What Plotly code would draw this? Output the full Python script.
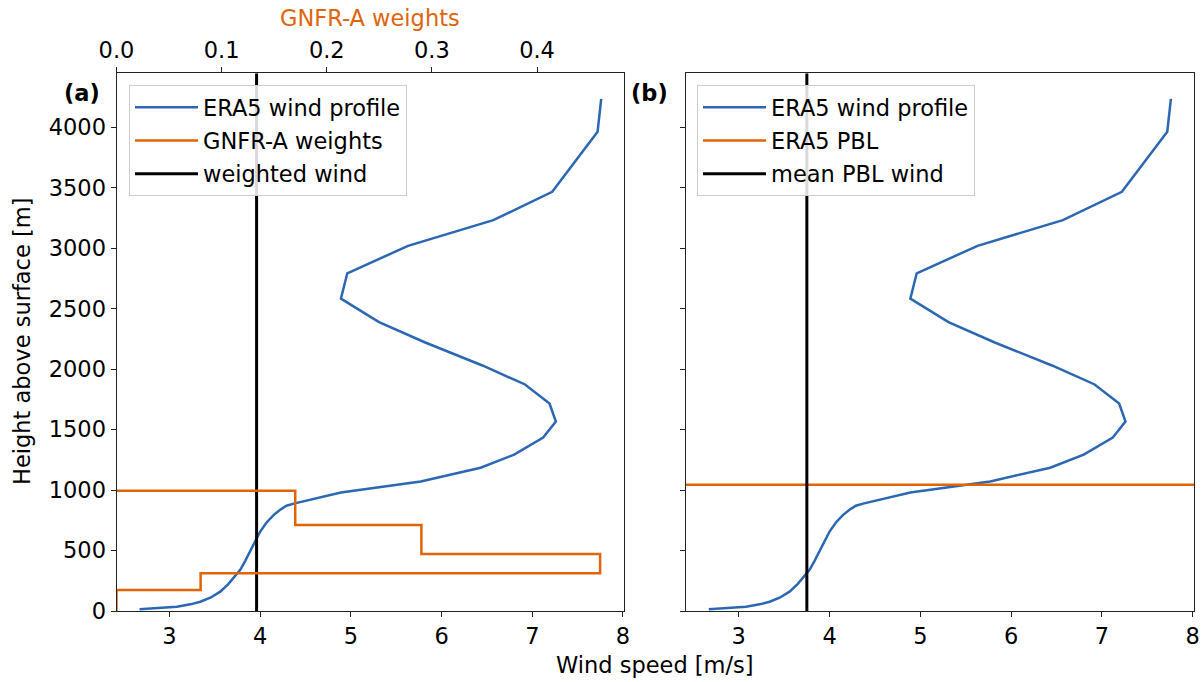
import plotly.graph_objects as go

# ---------------- data ----------------
heights = [14, 25, 36, 55, 77, 110, 160, 224, 284, 340, 414, 491, 574, 657, 732,
           795, 837, 870, 888, 980, 1071, 1185, 1293, 1434, 1566, 1715, 1873, 2030,
           2220, 2389, 2583, 2792, 3019, 3232, 3466, 3963, 4234]
wind = [2.67, 2.90, 3.08, 3.23, 3.34, 3.45, 3.56, 3.65, 3.72, 3.78, 3.835, 3.89,
        3.945, 4.00, 4.07, 4.15, 4.22, 4.29, 4.37, 4.89, 5.77, 6.43, 6.80, 7.12,
        7.26, 7.19, 6.92, 6.45, 5.82, 5.31, 4.89, 4.96, 5.63, 6.57, 7.22, 7.72, 7.76]
layer_bounds = [0, 174, 312, 472, 712, 994]
layer_weights = [0.0, 0.08, 0.46, 0.29, 0.17]
weighted_wind = 3.96
pbl_height = 1044
mean_pbl_wind = 3.75
weight_ticks = [0.0, 0.1, 0.2, 0.3, 0.4]
wind_ticks = [3, 4, 5, 6, 7, 8]
height_ticks = [0, 500, 1000, 1500, 2000, 2500, 3000, 3500, 4000]

BLUE = "#2b67b2"
ORANGE = "#e0650a"
FONT = "DejaVu Sans"
FS = 22.5

W, H = 1204, 682
def fx(p): return p / W
def fy(p): return 1 - p / H

# ranges (matplotlib-like 5% margins)
span = max(wind) - min(wind)
xr = [min(wind) - 0.05 * span, max(wind) + 0.05 * span]
yr = [0, max(heights) * 1.05]
wr = [0, max(layer_weights) * 1.05]

# step path for weights
sx, sy = [layer_weights[0]], [layer_bounds[0]]
n = len(layer_weights)
for i in range(n):
    sx.append(layer_weights[i]); sy.append(layer_bounds[i + 1])
    nxt = layer_weights[i + 1] if i + 1 < n else 0.0
    sx.append(nxt); sy.append(layer_bounds[i + 1])

fig = go.Figure()
# left panel
fig.add_trace(go.Scatter(x=wind, y=heights, mode="lines", name="ERA5 wind profile",
                         line=dict(color=BLUE, width=2.5), xaxis="x", yaxis="y",
                         legend="legend", legendgroup="a1"))
fig.add_trace(go.Scatter(x=sx, y=sy, mode="lines", name="GNFR-A weights",
                         line=dict(color=ORANGE, width=2.5), xaxis="x3", yaxis="y",
                         legend="legend", legendgroup="a2"))
fig.add_trace(go.Scatter(x=[weighted_wind, weighted_wind], y=yr, mode="lines",
                         name="weighted wind", line=dict(color="black", width=3),
                         xaxis="x", yaxis="y", legend="legend", legendgroup="a3"))
# right panel
fig.add_trace(go.Scatter(x=wind, y=heights, mode="lines", name="ERA5 wind profile",
                         line=dict(color=BLUE, width=2.5), xaxis="x2", yaxis="y2",
                         legend="legend2", legendgroup="b1"))
fig.add_trace(go.Scatter(x=xr, y=[pbl_height, pbl_height], mode="lines", name="ERA5 PBL",
                         line=dict(color=ORANGE, width=2.5), xaxis="x2", yaxis="y2",
                         legend="legend2", legendgroup="b2"))
fig.add_trace(go.Scatter(x=[mean_pbl_wind, mean_pbl_wind], y=yr, mode="lines",
                         name="mean PBL wind", line=dict(color="black", width=3),
                         xaxis="x2", yaxis="y2", legend="legend2", legendgroup="b3"))

axcommon = dict(showline=True, linecolor="#222", linewidth=1,
                ticks="outside", ticklen=5, tickwidth=1, tickcolor="#222",
                showgrid=False, zeroline=False, automargin=False,
                tickfont=dict(family=FONT, size=FS, color="black"))

dl = [fx(116.5), fx(624.3)]
dr = [fx(685.7), fx(1194)]
dy = [fy(611), fy(73.3)]

legcommon = dict(bgcolor="rgba(255,255,255,0.85)", bordercolor="#cccccc", borderwidth=1,
                 font=dict(family=FONT, size=FS, color="black"),
                 xanchor="left", yanchor="top", tracegroupgap=1,
                 itemwidth=63)

fig.update_layout(
    width=W, height=H, margin=dict(l=0, r=0, t=0, b=0, autoexpand=False),
    paper_bgcolor="white", plot_bgcolor="white",
    font=dict(family=FONT, size=FS, color="black"),
    xaxis=dict(domain=dl, range=xr, anchor="y", tickvals=wind_ticks, mirror=True, **axcommon),
    yaxis=dict(domain=dy, range=yr, anchor="x", tickvals=height_ticks, mirror=True, **axcommon),
    xaxis2=dict(domain=dr, range=xr, anchor="y2", tickvals=wind_ticks, mirror=True, **axcommon),
    yaxis2=dict(domain=dy, range=yr, anchor="x2", tickvals=height_ticks, mirror=True,
                showticklabels=False, **axcommon),
    xaxis3=dict(overlaying="x", side="top", anchor="y", range=wr,
                tickvals=weight_ticks, tickformat=".1f", **axcommon),
    legend=dict(x=fx(129), y=fy(85), **legcommon),
    legend2=dict(x=fx(697), y=fy(85), **legcommon),
    showlegend=True,
    annotations=[
        dict(text="<b>(a)</b>", x=fx(102), y=fy(93), xref="paper", yref="paper",
             xanchor="right", yanchor="middle", showarrow=False,
             font=dict(family=FONT, size=FS, color="black")),
        dict(text="<b>(b)</b>", x=fx(670), y=fy(93), xref="paper", yref="paper",
             xanchor="right", yanchor="middle", showarrow=False,
             font=dict(family=FONT, size=FS, color="black")),
        dict(text="GNFR-A weights", x=fx(370.4), y=fy(18), xref="paper", yref="paper",
             xanchor="center", yanchor="middle", showarrow=False,
             font=dict(family=FONT, size=FS, color=ORANGE)),
        dict(text="Wind speed [m/s]", x=fx(655), y=fy(665), xref="paper", yref="paper",
             xanchor="center", yanchor="middle", showarrow=False,
             font=dict(family=FONT, size=FS, color="black")),
        dict(text="Height above surface [m]", x=fx(22), y=fy(342), xref="paper", yref="paper",
             xanchor="center", yanchor="middle", showarrow=False, textangle=-90,
             font=dict(family=FONT, size=FS, color="black")),
    ],
)

fig.write_html("out.html")
